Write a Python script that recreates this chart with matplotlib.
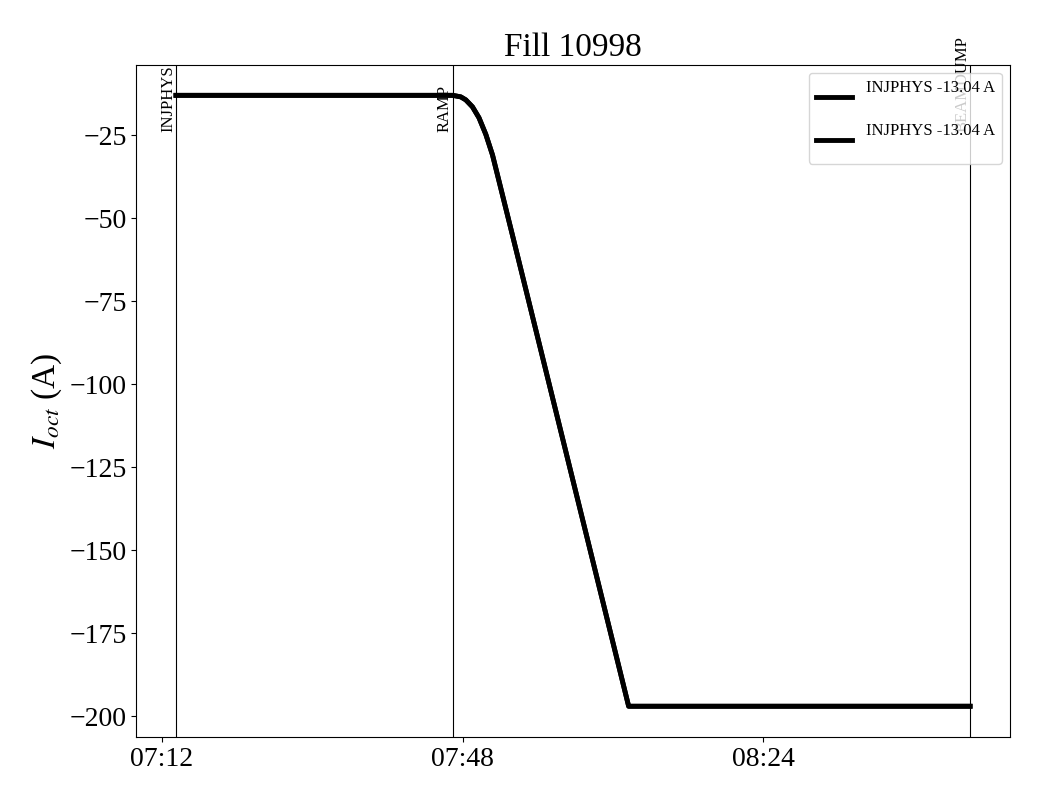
import numpy as np
import pandas as pd
import matplotlib
matplotlib.use("Agg")
import matplotlib.pyplot as plt
import matplotlib.dates as mdates

plt.rcParams['font.family'] = ['Liberation Serif', 'DejaVu Serif']
plt.rcParams['mathtext.fontset'] = 'stix'

# octupole current (time, amps)
times = ["07:13:40", "07:46:48", "07:47:46", "07:48:22", "07:49:10",
         "07:49:57", "07:50:46", "07:51:34", "07:52:21", "07:53:09",
         "07:53:57", "08:07:52", "08:48:45"]
current = [-13.04, -13.04, -13.5, -14.4, -16.5,
           -19.8, -24.8, -31.0, -38.9, -47.0,
           -55.1, -197.0, -197.0]

# beam mode markers
mode_names = ["INJPHYS", "RAMP", "BEAMDUMP"]
mode_times = ["07:13:40", "07:46:48", "08:48:45"]

fill = 10998
day = "2022-08-20 "

t = pd.to_datetime([day + s for s in times])
tm = pd.to_datetime([day + s for s in mode_times])

fig, ax = plt.subplots(figsize=(10.4, 8), dpi=100)
fig.subplots_adjust(left=0.131, right=0.971, top=0.919, bottom=0.079)

lbl = "INJPHYS %.2f A\n" % current[0]
ax.plot(t, current, color="black", lw=3.5, label=lbl)
ax.plot(t, current, color="black", lw=3.5, label=lbl)

for name, tt in zip(mode_names, tm):
    ax.axvline(tt, color="black", lw=0.8)
    ax.text(tt, -24.1, name, rotation=90, ha="right", va="bottom", fontsize=12)

ax.legend(loc="upper right", fontsize=12, handlelength=2.2)

ticks = pd.to_datetime([day + "07:12", day + "07:48", day + "08:24"])
ax.set_xticks(ticks)
ax.xaxis.set_major_formatter(mdates.DateFormatter("%H:%M"))
ax.tick_params(labelsize=20)
ax.set_ylabel(r"$I_{oct}$ (A)", fontsize=24)
ax.set_title("Fill %d" % fill, fontsize=24)

fig.savefig("out.png", dpi=100)
